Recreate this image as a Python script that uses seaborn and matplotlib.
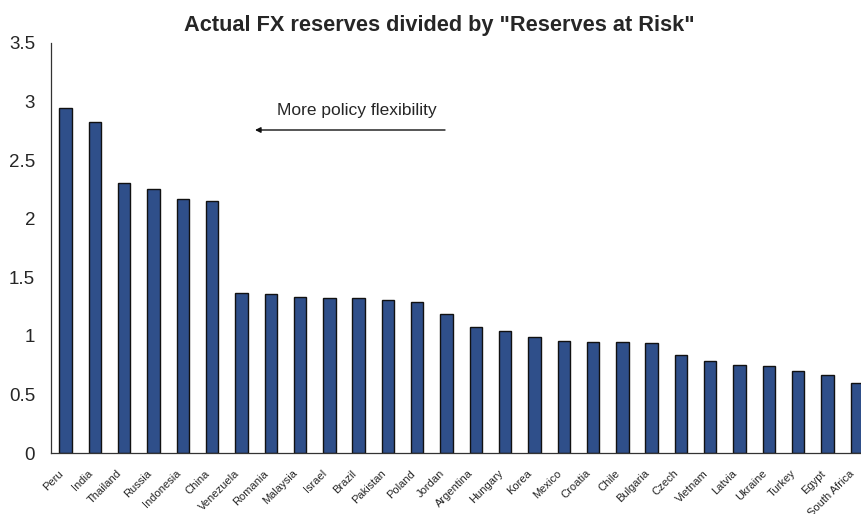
import matplotlib
matplotlib.use("Agg")
import matplotlib.pyplot as plt
import matplotlib.transforms as mtransforms
import seaborn as sns
import pandas as pd
import numpy as np
from matplotlib import font_manager

countries = ["Peru", "India", "Thailand", "Russia", "Indonesia", "China", "Venezuela",
             "Romania", "Malaysia", "Israel", "Brazil", "Pakistan", "Poland", "Jordan",
             "Argentina", "Hungary", "Korea", "Mexico", "Croatia", "Chile", "Bulgaria",
             "Czech", "Vietnam", "Latvia", "Ukraine", "Turkey", "Egypt", "South Africa"]
ratios = [2.94, 2.82, 2.30, 2.25, 2.17, 2.15, 1.37, 1.36, 1.33, 1.32, 1.32, 1.31, 1.29,
          1.19, 1.08, 1.04, 0.99, 0.96, 0.95, 0.945, 0.94, 0.835, 0.785, 0.75, 0.74,
          0.70, 0.665, 0.60]
yticks = [0, 0.5, 1, 1.5, 2, 2.5, 3, 3.5]
ytick_labels = ["0", "0.5", "1", "1.5", "2", "2.5", "3", "3.5"]

sns.set_style("white")
names = {f.name for f in font_manager.fontManager.ttflist}
fam = "Liberation Sans Narrow" if "Liberation Sans Narrow" in names else "Liberation Sans"
plt.rcParams["font.family"] = [fam, "DejaVu Sans"]

df = pd.DataFrame({"country": countries, "ratio": ratios})

fig = plt.figure(figsize=(8.62, 5.14), dpi=100)
n = len(countries)
# axes spans beyond right edge (chart cropped in reference)
left_px, right_px = 51, 51 + n * 29.3
top_px, bottom_px = 42.7, 453.3
ax = fig.add_axes([left_px / 862, 1 - bottom_px / 514,
                   (right_px - left_px) / 862, (bottom_px - top_px) / 514])

sns.barplot(data=df, x="country", y="ratio", color="#2F4F8A", width=0.42,
            edgecolor="#111111", linewidth=1.0, saturation=1, ax=ax)

ax.set_xlim(-0.5, n - 0.5)
ax.set_ylim(0, 3.5)
ax.set_yticks(yticks)
ax.set_yticklabels(ytick_labels, fontsize=13.5)
ax.set_xlabel("")
ax.set_ylabel("")
ax.set_xticks(range(n))
ax.set_xticklabels(countries, rotation=45, ha="right", va="center",
                   rotation_mode="anchor", fontsize=8)
ax.tick_params(axis="x", which="major", length=0, pad=14)
offset = mtransforms.ScaledTranslation(-4 / 100, 1 / 100, fig.dpi_scale_trans)
for lbl in ax.get_xticklabels():
    lbl.set_transform(lbl.get_transform() + offset)
ax.set_xticks(np.arange(-0.5, n, 1), minor=True)
ax.tick_params(axis="x", which="minor", length=4, width=0.8, color="#333333", direction="out")
ax.tick_params(axis="y", length=5.5, width=0.8, color="#333333", direction="out", pad=6)

for s in ["top", "right"]:
    ax.spines[s].set_visible(False)
for s in ["left", "bottom"]:
    ax.spines[s].set_color("#333333")
    ax.spines[s].set_linewidth(0.9)

fig.text(439 / 862, 1 - 26 / 514, 'Actual FX reserves divided by "Reserves at Risk"',
         ha="center", va="center", fontsize=15.7, fontweight="bold")

fig.text(357 / 862, 1 - 111 / 514, "More policy flexibility", ha="center", va="center",
         fontsize=12.5)
ax.annotate("", xy=(255 / 862, 1 - 130 / 514), xytext=(445 / 862, 1 - 130 / 514),
            xycoords="figure fraction", textcoords="figure fraction",
            arrowprops=dict(arrowstyle="-|>", color="#111111", lw=1.0,
                            mutation_scale=8, shrinkA=0, shrinkB=0))

fig.savefig("out.png", dpi=100)
